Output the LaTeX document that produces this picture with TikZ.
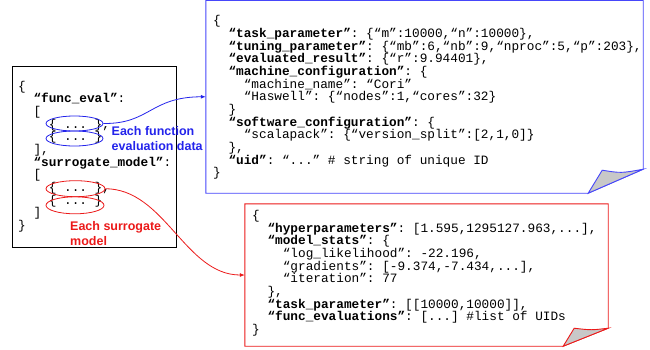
\documentclass[tikz,border=0pt]{standalone}
\usepackage{fontspec}
\setmainfont{Liberation Sans}
\newfontfamily\jmono{Liberation Mono}
\usetikzlibrary{arrows.meta,shapes.geometric}
\definecolor{jblue}{RGB}{35,35,235}
\definecolor{jboxblue}{RGB}{70,70,250}
\definecolor{jred}{RGB}{235,25,25}
\definecolor{jfold}{RGB}{200,200,200}
\newcommand\jl[1]{\hbox{#1}}
\newcommand\ii{\phantom{xx}}
\newcommand\iv{\phantom{xxxx}}
\newcommand\jblock[1]{\vtop{\jmono\fontsize{12.75}{12.67}\selectfont\frenchspacing\baselineskip=12.67pt\lineskiplimit=-100pt\lineskip=0pt #1}}
\newcommand\lblock[2]{\vtop{\baselineskip=#1\lineskiplimit=-100pt\lineskip=0pt #2}}
\tikzset{
  jsontext/.style={anchor=base west, inner sep=0pt},
  blob/.style={ellipse, line width=0.8pt, inner sep=0pt},
  annot/.style={anchor=base west, inner sep=0pt, font=\bfseries\fontsize{12.5}{15}\selectfont},
  boxshape/.style={inner sep=0pt},
  link/.style={line width=0.8pt, -{Latex[length=5pt,width=4pt]}}
}
\begin{document}
\begin{tikzpicture}[x=1pt,y=-1pt]
\useasboundingbox (0,0) rectangle (650,349);
% left box
\node[boxshape, draw=black, line width=0.9pt, minimum width=164pt, minimum height=181pt] (lb) at (94,156.5) {};
% blue document box
\node[boxshape, minimum width=437pt, minimum height=192.5pt] (bb) at (424.5,96.75) {};
\draw[jboxblue, line width=0.9pt, fill=white] (bb.north west) -- (bb.north east) -- ([yshift=24pt]bb.south east) -- ([xshift=-55pt]bb.south east) -- (bb.south west) -- cycle;
\filldraw[fill=jfold, draw=jboxblue, line width=0.9pt] ([xshift=-55pt]bb.south east) -- ([xshift=-41pt,yshift=23pt]bb.south east) .. controls ([xshift=-22pt,yshift=20pt]bb.south east) .. ([yshift=24pt]bb.south east) -- cycle;
% red document box
\node[boxshape, minimum width=363pt, minimum height=142pt] (rb) at (426.5,275) {};
\draw[jred, line width=0.9pt, fill=white] (rb.north west) -- (rb.north east) -- ([yshift=18pt]rb.south east) -- ([xshift=-45pt]rb.south east) -- (rb.south west) -- cycle;
\filldraw[fill=jfold, draw=jred, line width=0.9pt] ([xshift=-45pt]rb.south east) -- ([xshift=-34pt,yshift=18pt]rb.south east) .. controls ([xshift=-17pt,yshift=16pt]rb.south east) .. ([yshift=18pt]rb.south east) -- cycle;
% texts
\node[jsontext] (lt) at (18,90) {\jblock{%
\jl{\{}
\jl{\ii\textbf{“func\_eval”}:}
\jl{\ii[}
\jl{\iv\{ ... \},}
\jl{\iv\{ ... \}}
\jl{\ii],}
\jl{\ii\textbf{“surrogate\_model”}:}
\jl{\ii[}
\jl{\iv\{ ... \},}
\jl{\iv\{ ... \}}
\jl{\ii]}
\jl{\}}}};
\node[jsontext] (bt) at (213,24.8) {\jblock{%
\jl{\{}
\jl{\ii\textbf{“task\_parameter”}: \{“m”:10000,“n”:10000\},}
\jl{\ii\textbf{“tuning\_parameter”}: \{“mb”:6,“nb”:9,“nproc”:5,“p”:203\},}
\jl{\ii\textbf{“evaluated\_result”}: \{“r”:9.94401\},}
\jl{\ii\textbf{“machine\_configuration”}: \{}
\jl{\iv“machine\_name”: “Cori”}
\jl{\iv“Haswell”: \{“nodes”:1,“cores”:32\}}
\jl{\ii\}}
\jl{\ii\textbf{“software\_configuration”}: \{}
\jl{\iv“scalapack”: \{“version\_split”:[2,1,0]\}}
\jl{\ii\},}
\jl{\ii\textbf{“uid”}: “...” \# string of unique ID}
\jl{\}}}};
\node[jsontext] (rt) at (252,219.5) {\jblock{%
\jl{\{}
\jl{\ii\textbf{“hyperparameters”}: [1.595,1295127.963,...],}
\jl{\ii\textbf{“model\_stats”}: \{}
\jl{\iv“log\_likelihood”: -22.196,}
\jl{\iv“gradients”: [-9.374,-7.434,...],}
\jl{\iv“iteration”: 77}
\jl{\ii\},}
\jl{\ii\textbf{“task\_parameter”}: [[10000,10000]],}
\jl{\ii\textbf{“func\_evaluations”}: [...] \#list of UIDs}
\jl{\}}}};
% ellipses
\node[blob, draw=jblue, minimum width=57pt, minimum height=15pt] (fe1) at (74.5,123.5) {};
\node[blob, draw=jblue, minimum width=57pt, minimum height=15pt] (fe2) at (74.5,138.5) {};
\node[blob, draw=jred, minimum width=59pt, minimum height=16pt] (sm1) at (75.5,188.7) {};
\node[blob, draw=jred, minimum width=58pt, minimum height=17pt] (sm2) at (75,205.3) {};
% labels
\node[annot, text=jblue] (lab1) at (111.5,135) {\lblock{15pt}{\hbox{Each function}\hbox{evaluation data}}};
\node[annot, text=jred] (lab2) at (70,230.7) {\lblock{14.5pt}{\hbox{Each surrogate}\hbox{model}}};
% connectors
\draw[link, jblue] (fe1.east) .. controls (150,124) and (150,97) .. (bb.west);
\draw[link, jred] (sm1.east) .. controls (165,189) and (185,275) .. (rb.west);
\end{tikzpicture}
\end{document}
